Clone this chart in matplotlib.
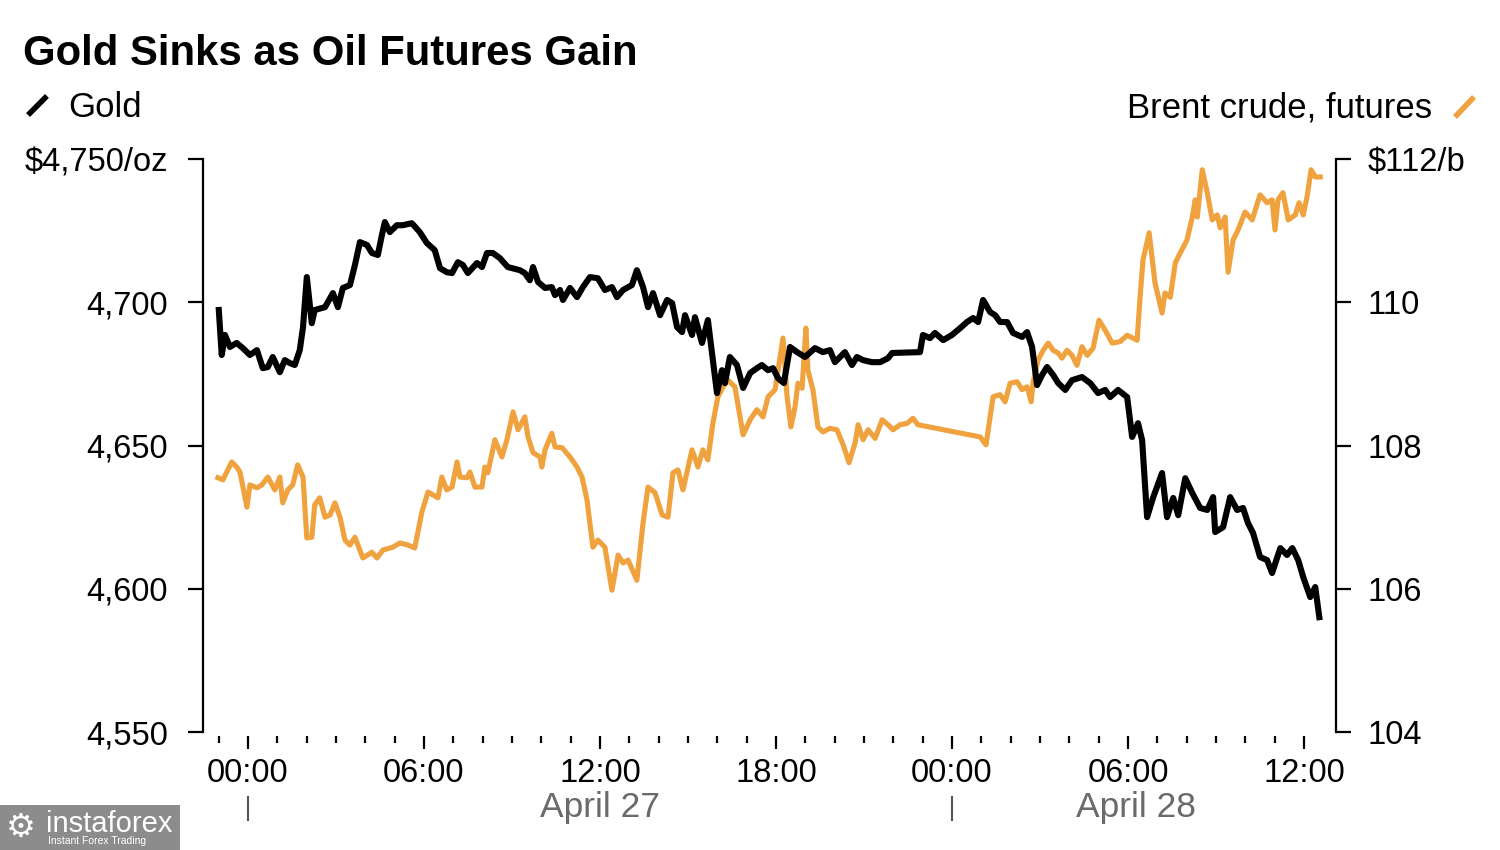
"""Gold vs Brent crude futures, intraday, April 27-28."""
import matplotlib

matplotlib.use("Agg")
import matplotlib.pyplot as plt  # noqa: E402
from matplotlib.lines import Line2D  # noqa: E402
from matplotlib.patches import Rectangle  # noqa: E402
from matplotlib.transforms import blended_transform_factory  # noqa: E402

plt.rcParams["font.family"] = ["Liberation Sans", "DejaVu Sans"]

# hours from 00:00 April 27
gold_hours = [
    -0.99, -0.89, -0.78, -0.61, -0.38, -0.17, 0.07, 0.31, 0.51, 0.68, 0.85, 1.09,
    1.26, 1.43, 1.60, 1.77, 1.88, 2.01, 2.18, 2.28, 2.63, 2.90, 3.07, 3.24, 3.48,
    3.65, 3.82, 4.06, 4.23, 4.43, 4.57, 4.67, 4.84, 5.08, 5.28, 5.59, 5.86, 6.10,
    6.37, 6.55, 6.78, 6.96, 7.16, 7.33, 7.50, 7.81, 7.98, 8.15, 8.35, 8.59, 8.86,
    9.27, 9.44, 9.61, 9.72, 9.89, 10.13, 10.36, 10.47, 10.64, 10.74, 10.98, 11.22,
    11.42, 11.66, 11.93, 12.17, 12.41, 12.58, 12.79, 13.09, 13.26, 13.47, 13.64,
    13.81, 14.05, 14.29, 14.46, 14.63, 14.80, 14.90, 15.14, 15.24, 15.48, 15.68,
    15.85, 15.99, 16.16, 16.26, 16.43, 16.67, 16.88, 17.12, 17.35, 17.52, 17.73,
    17.90, 18.07, 18.27, 18.48, 18.72, 18.99, 19.33, 19.60, 19.84, 20.01, 20.35,
    20.59, 20.76, 20.97, 21.27, 21.55, 21.82, 21.96, 22.91, 23.01, 23.25, 23.42,
    23.70, 24.00, 24.28, 24.51, 24.72, 24.89, 25.06, 25.30, 25.47, 25.64, 25.88,
    26.08, 26.39, 26.56, 26.73, 26.90, 27.07, 27.24, 27.45, 27.62, 27.86, 28.09,
    28.43, 28.71, 28.98, 29.22, 29.39, 29.66, 29.97, 30.14, 30.34, 30.48, 30.65,
    30.86, 31.16, 31.33, 31.54, 31.71, 31.95, 32.19, 32.46, 32.70, 32.90, 32.97,
    33.24, 33.48, 33.72, 33.92, 34.09, 34.26, 34.50, 34.74, 34.91, 35.19, 35.42,
    35.60, 35.80, 35.97, 36.21, 36.38, 36.52,
]
gold_usd = [
    4697.3, 4681.6, 4688.6, 4684.4, 4685.8, 4684.0, 4681.6, 4683.3, 4677.0, 4677.4,
    4680.9, 4675.6, 4679.8, 4678.8, 4678.1, 4683.3, 4691.3, 4708.8, 4692.7, 4697.3,
    4698.3, 4703.2, 4698.3, 4705.0, 4706.0, 4713.0, 4721.0, 4720.0, 4717.2, 4716.5,
    4723.5, 4728.0, 4724.5, 4726.9, 4726.9, 4727.6, 4724.5, 4720.7, 4718.2, 4711.9,
    4710.5, 4710.2, 4714.0, 4713.0, 4710.2, 4713.7, 4712.3, 4717.2, 4717.2, 4715.4,
    4712.3, 4711.2, 4710.2, 4707.7, 4712.3, 4707.1, 4705.0, 4705.3, 4702.5, 4704.3,
    4700.8, 4705.0, 4701.8, 4705.3, 4708.8, 4708.4, 4704.3, 4705.3, 4701.8, 4704.3,
    4706.0, 4711.2, 4705.3, 4698.3, 4703.2, 4695.5, 4700.8, 4699.7, 4691.3, 4689.6,
    4695.5, 4688.6, 4694.8, 4685.8, 4693.8, 4679.8, 4668.3, 4676.3, 4671.8, 4680.9,
    4678.1, 4670.1, 4675.3, 4677.0, 4678.1, 4676.3, 4677.0, 4673.5, 4671.8, 4684.4,
    4682.6, 4680.9, 4684.0, 4682.6, 4683.3, 4679.1, 4682.6, 4678.1, 4680.9, 4679.8,
    4679.1, 4679.1, 4680.5, 4682.3, 4682.6, 4688.6, 4687.5, 4689.3, 4686.8, 4688.6,
    4691.0, 4693.1, 4694.5, 4693.1, 4700.8, 4696.6, 4695.5, 4693.1, 4693.1, 4689.3,
    4687.9, 4689.6, 4684.4, 4671.1, 4674.6, 4677.4, 4674.6, 4671.8, 4669.4, 4672.8,
    4673.9, 4671.8, 4668.3, 4669.4, 4666.9, 4669.4, 4666.9, 4653.0, 4657.8, 4651.9,
    4625.0, 4632.0, 4640.4, 4625.0, 4631.7, 4625.7, 4638.6, 4633.4, 4628.2, 4627.5,
    4632.0, 4619.8, 4621.5, 4632.0, 4627.5, 4628.2, 4622.9, 4619.5, 4611.1, 4610.0,
    4605.5, 4614.2, 4611.8, 4614.2, 4610.0, 4604.1, 4597.1, 4600.6, 4590.1,
]

brent_hours = [
    -1.02, -0.85, -0.55, -0.38, -0.27, -0.03, 0.07, 0.31, 0.48, 0.68, 0.92, 1.09,
    1.19, 1.36, 1.53, 1.70, 1.88, 2.01, 2.18, 2.28, 2.45, 2.63, 2.80, 2.97, 3.14,
    3.31, 3.48, 3.65, 3.92, 4.23, 4.40, 4.60, 4.94, 5.18, 5.46, 5.69, 5.93, 6.14,
    6.48, 6.61, 6.78, 6.96, 7.13, 7.23, 7.47, 7.57, 7.74, 7.98, 8.08, 8.18, 8.42,
    8.66, 8.83, 9.04, 9.21, 9.44, 9.55, 9.72, 9.96, 10.02, 10.13, 10.36, 10.47,
    10.71, 10.98, 11.22, 11.39, 11.56, 11.76, 11.93, 12.17, 12.41, 12.62, 12.79,
    12.96, 13.26, 13.47, 13.64, 13.88, 14.12, 14.32, 14.49, 14.66, 14.83, 15.14,
    15.34, 15.51, 15.68, 15.85, 16.02, 16.20, 16.37, 16.60, 16.88, 17.12, 17.35,
    17.56, 17.73, 17.97, 18.24, 18.38, 18.51, 18.65, 18.75, 18.89, 19.02, 19.09,
    19.26, 19.43, 19.60, 19.84, 20.08, 20.29, 20.49, 20.70, 20.80, 20.97, 21.14,
    21.38, 21.62, 21.82, 21.99, 22.23, 22.47, 22.67, 22.84, 24.96, 25.16, 25.40,
    25.64, 25.81, 25.98, 26.22, 26.39, 26.56, 26.70, 26.76, 26.93, 27.11, 27.28,
    27.45, 27.62, 27.75, 27.92, 28.09, 28.26, 28.43, 28.61, 28.81, 29.01, 29.22,
    29.46, 29.73, 29.97, 30.31, 30.41, 30.51, 30.72, 30.92, 31.16, 31.26, 31.44,
    31.61, 31.78, 32.01, 32.19, 32.29, 32.36, 32.53, 32.70, 32.87, 33.04, 33.14,
    33.31, 33.41, 33.58, 33.75, 33.99, 34.23, 34.50, 34.74, 34.91, 35.01, 35.11,
    35.28, 35.46, 35.70, 35.83, 35.97, 36.10, 36.24, 36.38, 36.55,
]
brent_usd = [
    107.55, 107.52, 107.77, 107.70, 107.63, 107.14, 107.45, 107.41, 107.45, 107.56,
    107.38, 107.56, 107.20, 107.38, 107.45, 107.73, 107.56, 106.71, 106.72, 107.17,
    107.27, 107.00, 107.03, 107.20, 107.00, 106.68, 106.61, 106.72, 106.43, 106.51,
    106.43, 106.54, 106.58, 106.64, 106.61, 106.57, 107.07, 107.35, 107.27, 107.56,
    107.38, 107.42, 107.77, 107.56, 107.55, 107.63, 107.42, 107.42, 107.70, 107.62,
    108.08, 107.84, 108.08, 108.47, 108.22, 108.40, 108.12, 107.90, 107.84, 107.70,
    107.94, 108.17, 107.98, 107.97, 107.84, 107.70, 107.56, 107.24, 106.58, 106.68,
    106.58, 105.98, 106.47, 106.36, 106.40, 106.12, 106.92, 107.42, 107.34, 107.03,
    107.00, 107.62, 107.66, 107.38, 107.94, 107.70, 107.94, 107.80, 108.31, 108.68,
    108.82, 108.91, 108.82, 108.15, 108.36, 108.50, 108.40, 108.68, 108.78, 109.50,
    108.68, 108.26, 108.54, 108.87, 108.80, 109.64, 109.05, 108.78, 108.26, 108.19,
    108.24, 108.22, 108.01, 107.76, 108.04, 108.29, 108.08, 108.22, 108.10, 108.36,
    108.29, 108.22, 108.29, 108.31, 108.38, 108.29, 108.12, 108.01, 108.68, 108.71,
    108.61, 108.87, 108.89, 108.78, 108.82, 108.61, 108.87, 109.19, 109.33, 109.43,
    109.33, 109.29, 109.22, 109.33, 109.26, 109.12, 109.38, 109.26, 109.36, 109.75,
    109.61, 109.43, 109.45, 109.54, 109.47, 110.07, 110.59, 110.97, 110.27, 109.85,
    110.13, 110.07, 110.55, 110.69, 110.87, 111.19, 111.43, 111.19, 111.85, 111.53,
    111.15, 111.22, 111.04, 111.19, 110.42, 110.87, 111.01, 111.26, 111.15, 111.50,
    111.39, 111.43, 111.01, 111.43, 111.53, 111.15, 111.22, 111.39, 111.22, 111.47,
    111.85, 111.75, 111.75,
]

gold_ticks = [4550, 4600, 4650, 4700, 4750]
gold_labels = ["4,550", "4,600", "4,650", "4,700", "$4,750/oz"]
brent_ticks = [104, 106, 108, 110, 112]
brent_labels = ["104", "106", "108", "110", "$112/b"]
hour_ticks = [0, 6, 12, 18, 24, 30, 36]
hour_labels = ["00:00", "06:00", "12:00", "18:00", "00:00", "06:00", "12:00"]
days = ["April 27", "April 28"]

ORANGE = "#F0A23F"
GREY = "#6a6a6a"

fig = plt.figure(figsize=(15, 8.5), dpi=100)
ax = fig.add_axes([0.1353, 0.1388, 0.7554, 0.6741])
ax2 = ax.twinx()

ax2.plot(brent_hours, brent_usd, color=ORANGE, lw=3.7, solid_joinstyle="round")
ax.plot(gold_hours, gold_usd, color="black", lw=4.4, solid_joinstyle="round")
ax.set_zorder(ax2.get_zorder() + 1)
ax.patch.set_visible(False)

ax.set_xlim(-1.53, 37.09)
ax.set_ylim(4550, 4750)
ax2.set_ylim(104, 112)

for side in ("top", "right", "bottom"):
    ax.spines[side].set_visible(False)
for side in ("top", "left", "bottom"):
    ax2.spines[side].set_visible(False)
ax.spines["left"].set_linewidth(1.6)
ax2.spines["right"].set_linewidth(1.6)
ax.spines["bottom"].set_position(("outward", 3))

ax.set_yticks(gold_ticks)
ax.set_yticklabels(gold_labels)
ax2.set_yticks(brent_ticks)
ax2.set_yticklabels(brent_labels)
ax.tick_params(axis="y", direction="out", length=11, width=1.6, pad=14,
               labelsize=23.5)
ax2.tick_params(axis="y", direction="out", length=11, width=1.6, pad=12,
                labelsize=23.5)

ax.set_xticks(hour_ticks)
ax.set_xticklabels(hour_labels)
ax.set_xticks([h for h in range(-1, 37) if h % 6], minor=True)
ax.tick_params(axis="x", which="major", direction="out", length=9.5,
               width=1.6, pad=6, labelsize=23.5)
ax.tick_params(axis="x", which="minor", direction="out", length=5, width=1.6)

# day labels centred on each day's visible span
trans = blended_transform_factory(ax.transData, fig.transFigure)
day_starts = [0, 24]
day_ends = [24, max(gold_hours[-1], brent_hours[-1])]
for start, end, name in zip(day_starts, day_ends, days):
    fig.add_artist(Line2D([start, start], [0.0353, 0.0624], transform=trans,
                          color="#555555", lw=1.5))
    fig.text((start + end) / 2, 0.0388, name, transform=trans, ha="center",
             va="baseline", fontsize=25.5, color=GREY)

fig.text(0.0153, 0.9235, "Gold Sinks as Oil Futures Gain", fontsize=30.2,
         fontweight="bold", va="baseline")

fig.add_artist(Line2D([0.0187, 0.0313], [0.8647, 0.8871], color="black",
                      lw=4, solid_capstyle="butt"))
fig.text(0.0453, 0.862, "Gold", fontsize=25, va="baseline")
fig.text(0.9547, 0.862, "Brent crude, futures", fontsize=25, va="baseline",
         ha="right")
fig.add_artist(Line2D([0.970, 0.9827], [0.8624, 0.8859], color=ORANGE,
                      lw=4, solid_capstyle="butt"))

# watermark
fig.add_artist(Rectangle((0, 0), 0.12, 0.053, transform=fig.transFigure,
                         color="#8c8c8c", lw=0))
fig.text(0.004, 0.027, "\u2699", fontsize=24, color="white", va="center",
         family=["DejaVu Sans"])
fig.text(0.031, 0.031, "instaforex", fontsize=21, color="white", va="center")
fig.text(0.032, 0.010, "Instant Forex Trading", fontsize=7.5, color="white",
         va="center")

fig.savefig("out.png", dpi=100)
plt.close(fig)
